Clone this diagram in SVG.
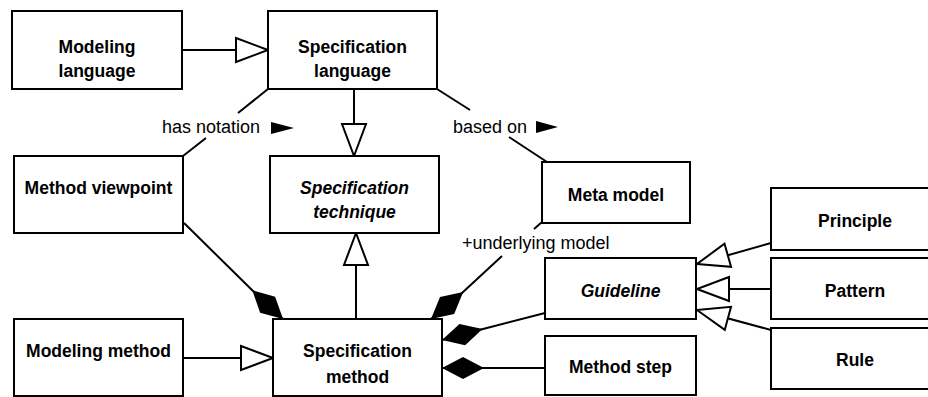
<svg xmlns="http://www.w3.org/2000/svg" width="928" height="397" viewBox="0 0 928 397">
<style>
.box{fill:#fff;stroke:#000;stroke-width:2}
.t{font-family:"Liberation Sans",Arial,sans-serif;font-weight:bold;font-size:17.5px;text-anchor:middle;fill:#000}
.it{font-style:italic}
.lbl{font-family:"Liberation Sans",Arial,sans-serif;font-size:18px;fill:#000}
.c{fill:none;stroke:#000;stroke-width:2}
</style>
<defs>
<marker id="gen" markerUnits="userSpaceOnUse" markerWidth="40" markerHeight="30" refX="0" refY="0" orient="auto" overflow="visible">
<path d="M0,0 L-32,-12 L-32,12 Z" fill="#fff" stroke="#000" stroke-width="2" stroke-linejoin="miter"/>
</marker>
<marker id="comp" markerUnits="userSpaceOnUse" markerWidth="50" markerHeight="30" refX="0" refY="0" orient="auto" overflow="visible">
<path d="M0,0 L21,-11 L42,0 L21,11 Z" fill="#000"/>
</marker>
</defs>
<rect width="928" height="397" fill="#fff"/>
<g id="connectors">
<path class="c" d="M182,50 L268,50" marker-end="url(#gen)"/>
<path class="c" d="M354,89 L354,156" marker-end="url(#gen)"/>
<path class="c" d="M356,319 L356,233" marker-end="url(#gen)"/>
<path class="c" d="M183,358 L273,358" marker-end="url(#gen)"/>
<path class="c" d="M771,243 L697,264" marker-end="url(#gen)"/>
<path class="c" d="M771,289 L697,289" marker-end="url(#gen)"/>
<path class="c" d="M771,330 L697,310" marker-end="url(#gen)"/>
<path class="c" d="M283,319 L253,291 L184,223" marker-start="url(#comp)"/>
<path class="c" d="M431,319 L462,293 L502,256" marker-start="url(#comp)"/>
<path class="c" d="M534,229 L542,222"/>
<path class="c" d="M442,340 L483,329 L545,313" marker-start="url(#comp)"/>
<path class="c" d="M442,368 L545,368" marker-start="url(#comp)"/>
<path class="c" d="M268,89 L238,113 M206,138 L183,156"/>
<path class="c" d="M437,89 L470,110 M509,137 L547,162"/>
<text class="lbl" x="162" y="133">has notation</text>
<polygon points="271,122 271,134 294,128" fill="#000"/>
<text class="lbl" x="453" y="133">based on</text>
<polygon points="536,121 536,133 558,127" fill="#000"/>
<text class="lbl" x="462" y="249">+underlying model</text>
</g>
<g id="modeling-language"><rect class="box" x="12" y="11" width="170" height="78"/><text class="t" x="97" y="53">Modeling</text><text class="t" x="97" y="77">language</text></g>
<g id="specification-language"><rect class="box" x="268" y="11" width="169" height="78"/><text class="t" x="352.5" y="53">Specification</text><text class="t" x="352.5" y="77">language</text></g>
<g id="method-viewpoint"><rect class="box" x="14" y="156" width="169" height="77"/><text class="t" x="98.5" y="194">Method viewpoint</text></g>
<g id="specification-technique"><rect class="box" x="270" y="156" width="169" height="77"/><text class="t it" x="354.5" y="194">Specification</text><text class="t it" x="354.5" y="218">technique</text></g>
<g id="meta-model"><rect class="box" x="542" y="162" width="148" height="61"/><text class="t" x="616" y="201">Meta model</text></g>
<g id="modeling-method"><rect class="box" x="14" y="319" width="169" height="77"/><text class="t" x="98.5" y="357">Modeling method</text></g>
<g id="specification-method"><rect class="box" x="273" y="319" width="169" height="77"/><text class="t" x="357.5" y="357">Specification</text><text class="t" x="357.5" y="383">method</text></g>
<g id="guideline"><rect class="box" x="545" y="258" width="151" height="61"/><text class="t it" x="620.5" y="297">Guideline</text></g>
<g id="method-step"><rect class="box" x="545" y="336" width="151" height="59"/><text class="t" x="620.5" y="373">Method step</text></g>
<g id="principle"><rect class="box" x="771" y="188" width="170" height="62"/><text class="t" x="855" y="227">Principle</text></g>
<g id="pattern"><rect class="box" x="771" y="258" width="170" height="61"/><text class="t" x="855" y="297">Pattern</text></g>
<g id="rule"><rect class="box" x="771" y="328" width="170" height="61"/><text class="t" x="855" y="366">Rule</text></g>
</svg>
